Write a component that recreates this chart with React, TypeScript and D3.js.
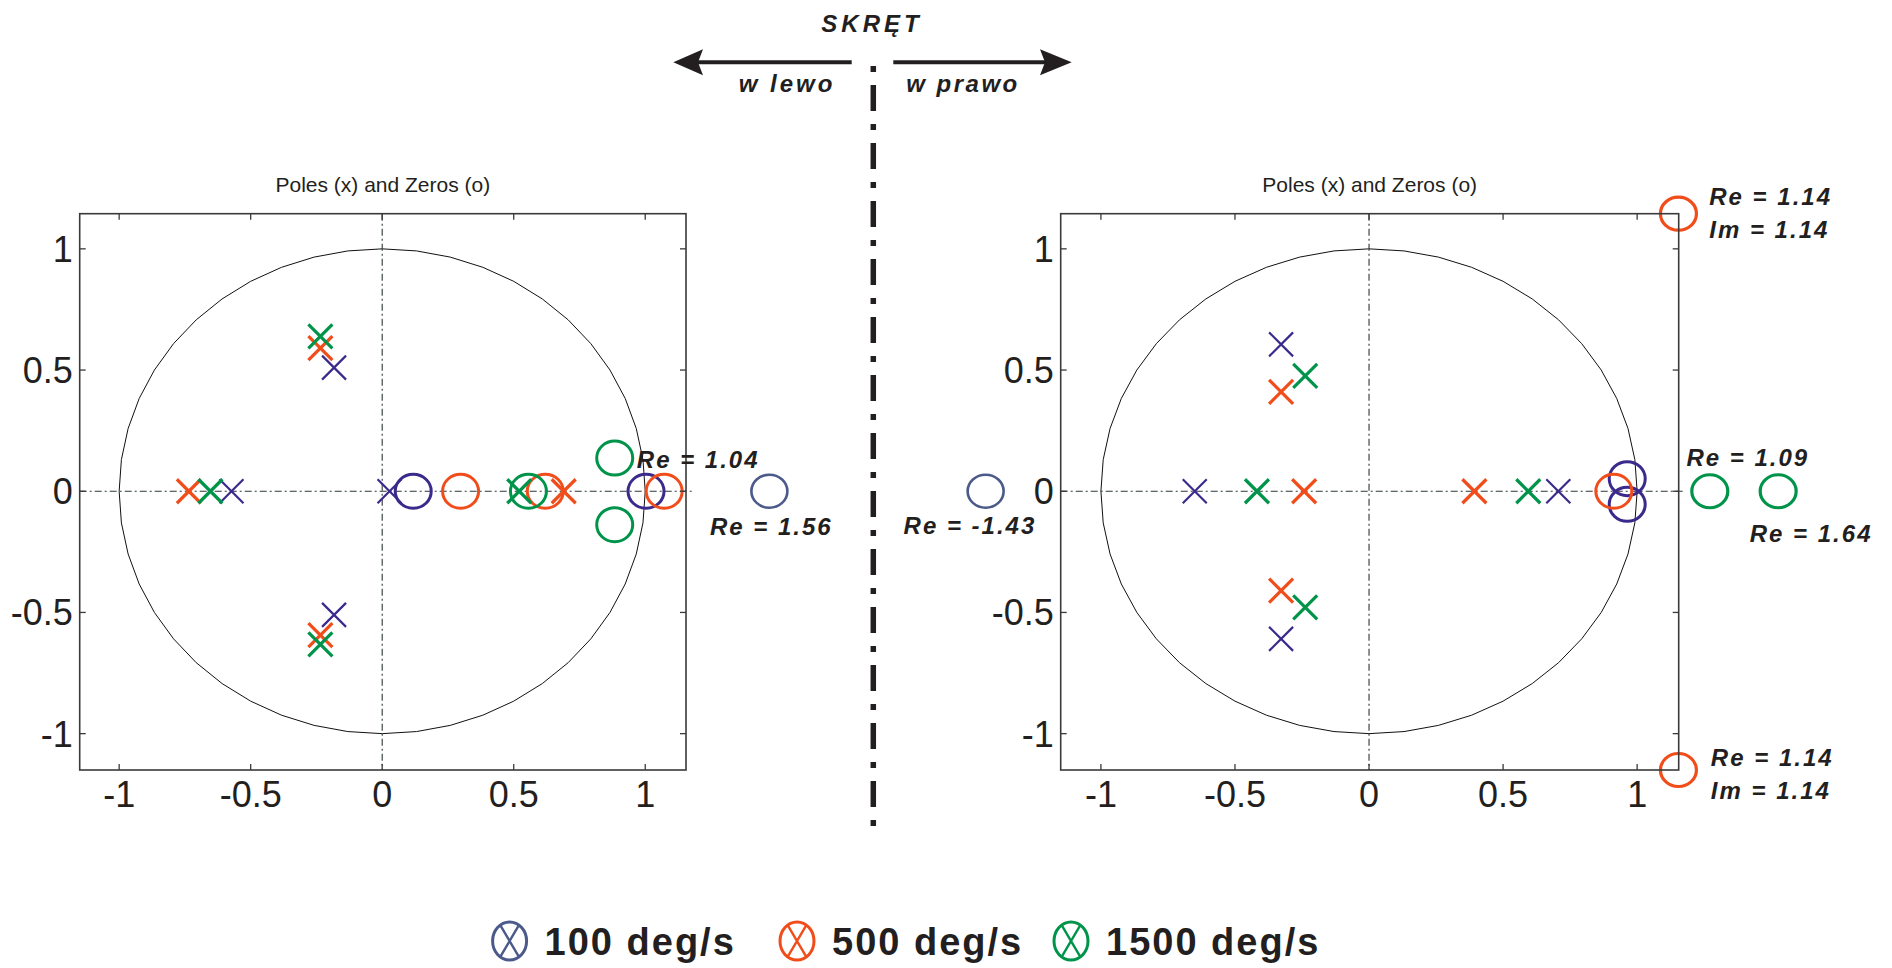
import React from 'react';
import * as d3 from 'd3';

type Pt = [number, number];

// series: 100, 500, 1500 deg/s
const seriesLabels = ['100 deg/s', '500 deg/s', '1500 deg/s'];
const markerColors = ['#3b2a8c', '#f04d1b', '#00944a'];
const legendColors = ['#4b5a8a', '#f04d1b', '#00944a'];

// turn left (w lewo)
const leftPoles100: Pt[] = [[-0.183, 0.51], [-0.183, -0.51], [-0.573, 0], [0.028, 0]];
const leftPoles500: Pt[] = [[-0.235, 0.59], [-0.235, -0.594], [-0.735, 0], [0.69, 0]];
const leftPoles1500: Pt[] = [[-0.235, 0.639], [-0.235, -0.632], [-0.653, 0], [0.521, 0]];
const leftZeros100: Pt[] = [[0.118, 0], [1.003, 0]];
const leftZeros500: Pt[] = [[0.298, 0], [0.62, 0], [1.072, 0]];
const leftZeros1500: Pt[] = [[0.556, 0], [0.884, 0.137], [0.884, -0.138]];

// turn right (w prawo)
const rightPoles100: Pt[] = [[-0.328, 0.606], [-0.328, -0.609], [-0.65, 0], [0.706, 0]];
const rightPoles500: Pt[] = [[-0.328, 0.41], [-0.328, -0.41], [-0.242, 0], [0.393, 0]];
const rightPoles1500: Pt[] = [[-0.238, 0.476], [-0.238, -0.479], [-0.418, 0], [0.594, 0]];
const rightZeros100: Pt[] = [[0.963, 0.052], [0.963, -0.054]];
const rightZeros500: Pt[] = [[0.913, 0]];
const rightZeros1500: Pt[] = [];

// zeros lying outside the plotted range, drawn at the edge with their value written next to them
const leftOutside = [{ series: 0, re: 1.472, im: 0 }];
const rightOutside = [
  { series: 0, re: -1.43, im: 0 },
  { series: 2, re: 1.271, im: 0 },
  { series: 2, re: 1.526, im: 0 },
  { series: 1, re: 1.154, im: 1.145 },
  { series: 1, re: 1.154, im: -1.15 },
];
const leftNotes = [
  { re: 0.968, im: 0.097, lines: ['Re = 1.04'] },
  { re: 1.246, im: -0.182, lines: ['Re = 1.56'] },
];
const rightNotes = [
  { re: -1.736, im: -0.178, lines: ['Re = -1.43'] },
  { re: 1.184, im: 0.106, lines: ['Re = 1.09'] },
  { re: 1.42, im: -0.21, lines: ['Re = 1.64'] },
  { re: 1.269, im: 1.181, lines: ['Re = 1.14', 'Im = 1.14'] },
  { re: 1.275, im: -1.135, lines: ['Re = 1.14', 'Im = 1.14'] },
];

const tickValues = [-1, -0.5, 0, 0.5, 1];
const tickLabels = ['-1', '-0.5', '0', '0.5', '1'];

const panelTitle = 'Poles (x) and Zeros (o)';
const headerTitle = 'SKRĘT';
const leftWord = 'w lewo';
const rightWord = 'w prawo';

const ink = '#231f20';
const sans = '"Liberation Sans", Arial, sans-serif';
const noteStyle: React.CSSProperties = { fontFamily: sans, fontWeight: 700, fontStyle: 'italic', fontSize: 24, letterSpacing: 2 };

const boxTop = 213.7;
const boxBottom = 770;

type PanelProps = {
  x0: number;
  x1: number;
  poles: Pt[][];
  zeros: Pt[][];
  outside: { series: number; re: number; im: number }[];
  notes: { re: number; im: number; lines: string[] }[];
};

function cross(cx: number, cy: number, r: number) {
  return `M${cx - r},${cy - r}L${cx + r},${cy + r}M${cx - r},${cy + r}L${cx + r},${cy - r}`;
}

function Panel({ x0, x1, poles, zeros, outside, notes }: PanelProps) {
  const x = d3.scaleLinear().domain([-1.15, 1.155]).range([x0, x1]);
  const y = d3.scaleLinear().domain([-1.15, 1.145]).range([boxBottom, boxTop]);
  const ring = d3.range(0, 49).map((i) => {
    const a = (i / 48) * 2 * Math.PI;
    return [Math.cos(a), Math.sin(a)] as Pt;
  });
  const line = d3.line<Pt>().x((d) => x(d[0])).y((d) => y(d[1]));
  const tick = 6;

  return (
    <g>
      <text x={(x0 + x1) / 2} y={192} textAnchor="middle" fontFamily={sans} fontSize={21} fill={ink}>
        {panelTitle}
      </text>
      <path d={line(ring) || ''} fill="none" stroke="#111" strokeWidth={1} />
      <line x1={x0} x2={x1 + 7} y1={y(0)} y2={y(0)} stroke="#2d3838" strokeWidth={1.1} strokeDasharray="7 3 2 3" />
      <line x1={x(0)} x2={x(0)} y1={boxTop} y2={boxBottom} stroke="#2d3838" strokeWidth={1.1} strokeDasharray="7 3 2 3" />

      {[0, 1, 2].map((s) => (
        <g key={s}>
          {zeros[s].map((d, i) => (
            <ellipse key={'z' + i} cx={x(d[0])} cy={y(d[1])} rx={18} ry={17} fill="none" stroke={markerColors[s]} strokeWidth={3} />
          ))}
          {poles[s].map((d, i) => (
            <path key={'p' + i} d={cross(x(d[0]), y(d[1]), 12)} stroke={markerColors[s]} strokeWidth={s === 0 ? 2.2 : 3.2} fill="none" />
          ))}
        </g>
      ))}

      {outside.map((d, i) => (
        <ellipse key={i} cx={x(d.re)} cy={y(d.im)} rx={18} ry={16.5} fill="none"
          stroke={d.series === 0 ? legendColors[0] : markerColors[d.series]} strokeWidth={d.series === 0 ? 2.6 : 3.2} />
      ))}

      <rect x={x0} y={boxTop} width={x1 - x0} height={boxBottom - boxTop} fill="none" stroke="#3a3a3a" strokeWidth={1.6} />
      {tickValues.map((v, i) => (
        <g key={i} stroke="#3a3a3a" strokeWidth={1.3}>
          <line x1={x(v)} x2={x(v)} y1={boxBottom} y2={boxBottom - tick} />
          <line x1={x(v)} x2={x(v)} y1={boxTop} y2={boxTop + tick} />
          <line x1={x0} x2={x0 + tick} y1={y(v)} y2={y(v)} />
          <line x1={x1} x2={x1 - tick} y1={y(v)} y2={y(v)} />
        </g>
      ))}
      {tickValues.map((v, i) => (
        <text key={'xl' + i} x={x(v)} y={807} textAnchor="middle" fontFamily={sans} fontSize={36} fill={ink}>
          {tickLabels[i]}
        </text>
      ))}
      {tickValues.map((v, i) => (
        <text key={'yl' + i} x={x0 - 7} y={y(v) + 13} textAnchor="end" fontFamily={sans} fontSize={36} fill={ink}>
          {tickLabels[i]}
        </text>
      ))}

      {notes.map((n, i) => (
        <text key={i} x={x(n.re)} y={y(n.im)} fill={ink} style={noteStyle}>
          {n.lines.map((t, j) => (
            <tspan key={j} x={x(n.re)} dy={j === 0 ? 0 : 33}>{t}</tspan>
          ))}
        </text>
      ))}
    </g>
  );
}

function Legend() {
  const symbolX = [509.6, 797, 1071];
  const cy = 941;
  return (
    <g>
      {seriesLabels.map((label, i) => {
        const cx = symbolX[i];
        const rx = 17;
        const ry = 19;
        return (
          <g key={i}>
            <ellipse cx={cx} cy={cy} rx={rx} ry={ry} fill="none" stroke={legendColors[i]} strokeWidth={3} />
            <path d={`M${cx - rx * 0.55},${cy - ry * 0.83}L${cx + rx * 0.55},${cy + ry * 0.83}M${cx - rx * 0.55},${cy + ry * 0.83}L${cx + rx * 0.55},${cy - ry * 0.83}`}
              stroke={legendColors[i]} strokeWidth={2.4} fill="none" />
            <text x={cx + 35} y={cy + 14} fontFamily={sans} fontWeight={700} fontSize={38} letterSpacing={2} fill={ink}>
              {label}
            </text>
          </g>
        );
      })}
    </g>
  );
}

function Header() {
  const ay = 62.3;
  return (
    <g fill={ink}>
      <text x={872} y={31.7} textAnchor="middle" fontFamily={sans} fontWeight={700} fontStyle="italic" fontSize={24} letterSpacing={4}>
        {headerTitle}
      </text>
      <line x1={698} x2={851.7} y1={ay} y2={ay} stroke={ink} strokeWidth={4} />
      <path d={`M673.3,${ay}L703,${ay - 13}L698,${ay}L703,${ay + 13}Z`} />
      <line x1={893.3} x2={1046} y1={ay} y2={ay} stroke={ink} strokeWidth={4} />
      <path d={`M1071.7,${ay}L1040,${ay - 13}L1045,${ay}L1040,${ay + 13}Z`} />
      <text x={787} y={92} textAnchor="middle" fontFamily={sans} fontWeight={700} fontStyle="italic" fontSize={24} letterSpacing={3}>
        {leftWord}
      </text>
      <text x={963} y={92} textAnchor="middle" fontFamily={sans} fontWeight={700} fontStyle="italic" fontSize={24} letterSpacing={2.5}>
        {rightWord}
      </text>
      <line x1={873.3} x2={873.3} y1={66} y2={826} stroke={ink} strokeWidth={5.5} strokeDasharray="6 13 26 13" />
    </g>
  );
}

export default function App() {
  return (
    <svg width={1892} height={968} style={{ position: 'absolute', left: 0, top: 0, background: '#fff' }}>
      <rect width={1892} height={968} fill="#fff" />
      <Header />
      <Panel
        x0={79.7}
        x1={686}
        poles={[leftPoles100, leftPoles500, leftPoles1500]}
        zeros={[leftZeros100, leftZeros500, leftZeros1500]}
        outside={leftOutside}
        notes={leftNotes}
      />
      <Panel
        x0={1060.7}
        x1={1678.7}
        poles={[rightPoles100, rightPoles500, rightPoles1500]}
        zeros={[rightZeros100, rightZeros500, rightZeros1500]}
        outside={rightOutside}
        notes={rightNotes}
      />
      <Legend />
    </svg>
  );
}
